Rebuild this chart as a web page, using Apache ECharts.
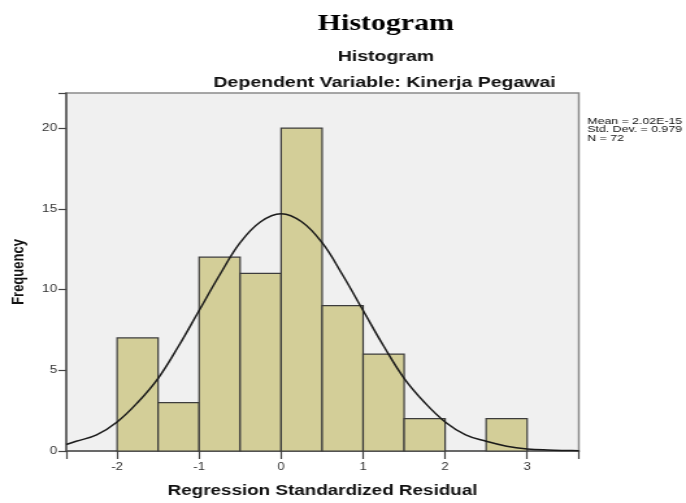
<!DOCTYPE html>
<html>
<head>
<meta charset="utf-8">
<script src="https://cdn.jsdelivr.net/npm/echarts@6/dist/echarts.min.js"></script>
<style>
  html, body { margin: 0; padding: 0; background: #ffffff; overflow: hidden; }
  /* the reference is stretched sideways, so draw narrow and stretch */
  #main { width: 528px; height: 503px; transform: scaleX(1.2992); transform-origin: 0 0; }
</style>
</head>
<body>
<div id="main"></div>
<script>
// histogram bins (start, end) and counts
const binStarts = [-2, -1.5, -1, -0.5, 0, 0.5, 1, 1.5, 2, 2.5];
const binEnds = [-1.5, -1, -0.5, 0, 0.5, 1, 1.5, 2, 2.5, 3];
const counts = [7, 3, 12, 11, 20, 9, 6, 2, 0, 2];

// normal curve
const curveX = [-2.62, -2.5, -2.25, -2, -1.75, -1.5, -1.25, -1, -0.75, -0.5, -0.25, 0, 0.25, 0.5, 0.75, 1, 1.25, 1.5, 1.75, 2, 2.25, 2.5, 2.75, 3, 3.25, 3.5, 3.63];
const curveY = [0.4, 0.6, 1.0, 1.8, 3.0, 4.5, 6.5, 8.7, 10.9, 12.9, 14.2, 14.7, 14.2, 12.9, 10.9, 8.7, 6.5, 4.5, 3.0, 1.8, 1.0, 0.6, 0.3, 0.13, 0.06, 0.03, 0.02];

const statLines = ['Mean = 2.02E-15', 'Std. Dev. = 0.979', 'N = 72'];

const chart = echarts.init(document.getElementById('main'));

const barData = binStarts.map((s, i) => [s, binEnds[i], counts[i]]);
const lineData = curveX.map((x, i) => [x, curveY[i]]);

const option = {
  animation: false,
  backgroundColor: '#ffffff',
  title: [
    {
      text: 'Histogram',
      left: 292, top: 8, textAlign: 'center',
      textStyle: { fontFamily: 'Liberation Serif', fontWeight: 'bold', fontSize: 23, color: '#000' }
    },
    {
      text: 'Histogram',
      left: 292, top: 44, textAlign: 'center',
      textStyle: { fontFamily: 'Liberation Sans', fontWeight: 'bold', fontSize: 15, color: '#111' }
    },
    {
      text: 'Dependent Variable: Kinerja Pegawai',
      left: 291, top: 70, textAlign: 'center',
      textStyle: { fontFamily: 'Liberation Sans', fontWeight: 'bold', fontSize: 15, color: '#111' }
    },
    {
      text: statLines.join('\n'),
      left: 447, top: 112,
      textStyle: { fontFamily: 'Liberation Sans', fontWeight: 'normal', fontSize: 9.5, lineHeight: 8.5, color: '#111' }
    }
  ],
  grid: {
    left: 50, top: 93, right: 82.5, bottom: 46,
    show: true,
    backgroundColor: '#f0f0f0',
    borderColor: '#8a8a8a',
    borderWidth: 1.5
  },
  xAxis: {
    type: 'value',
    min: -2.62, max: 3.63,
    splitNumber: 6,
    name: 'Regression Standardized Residual',
    nameLocation: 'middle',
    nameGap: 32,
    nameTextStyle: { fontFamily: 'Liberation Sans', fontWeight: 'bold', fontSize: 14.5, color: '#111' },
    axisLine: { onZero: false, lineStyle: { color: '#555', width: 1.5 } },
    axisTick: { show: true, length: 8, lineStyle: { color: '#444', width: 1.2 } },
    axisLabel: {
      color: '#333', fontFamily: 'Liberation Sans', fontSize: 10, margin: 11,
      formatter: v => (Number.isInteger(v) ? String(v) : '')
    },
    splitLine: { show: false }
  },
  yAxis: {
    type: 'value',
    min: 0, max: 22.17, interval: 5,
    position: 'left',
    name: 'Frequency',
    nameLocation: 'middle',
    nameGap: 30,
    nameTextStyle: { fontFamily: 'Liberation Sans', fontWeight: 'bold', fontSize: 13, color: '#111' },
    axisLine: { show: true, onZero: false, lineStyle: { color: '#555', width: 1.5 } },
    axisTick: { show: true, length: 6, lineStyle: { color: '#444', width: 1.2 } },
    axisLabel: {
      color: '#333', fontFamily: 'Liberation Sans', fontSize: 10.5, margin: 7,
      formatter: v => (v % 5 === 0 ? String(v) : '')
    },
    splitLine: { show: false }
  },
  series: [
    {
      type: 'custom',
      data: barData,
      encode: { x: [0, 1], y: 2 },
      renderItem: function (params, api) {
        if (api.value(2) === 0) return null;
        const p0 = api.coord([api.value(0), api.value(2)]);
        const p1 = api.coord([api.value(1), 0]);
        return {
          type: 'rect',
          shape: { x: p0[0], y: p0[1], width: p1[0] - p0[0], height: p1[1] - p0[1] },
          style: { fill: '#d3ce98', stroke: '#3c3c3c', lineWidth: 1.2 }
        };
      },
      z: 2
    },
    {
      type: 'line',
      data: lineData,
      smooth: 0.4,
      showSymbol: false,
      lineStyle: { color: '#1a1a1a', width: 1.5 },
      z: 3
    }
  ]
};

chart.setOption(option);
</script>
</body>
</html>
